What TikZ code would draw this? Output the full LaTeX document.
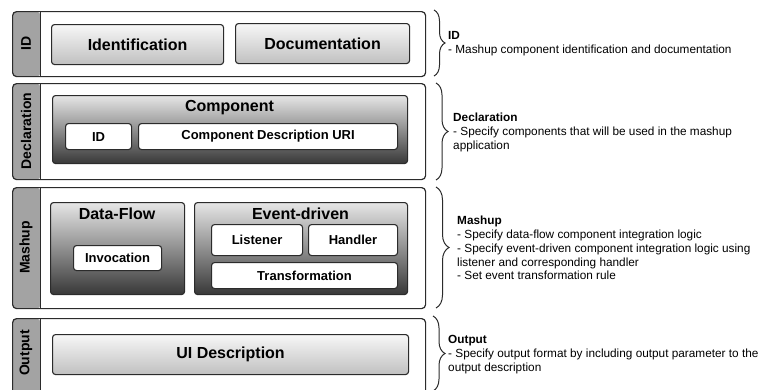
\documentclass[tikz,border=0pt]{standalone}
\usepackage{fontspec}
\setmainfont{Liberation Sans}
\usetikzlibrary{decorations.pathreplacing}

\definecolor{edge}{HTML}{2B2B2B}
\definecolor{stripgray}{HTML}{A3A3A3}
\definecolor{lighttop}{HTML}{F7F7F7}
\definecolor{lightbot}{HTML}{C0C0C0}
\definecolor{darktop}{HTML}{E6E6E6}
\definecolor{darkbot}{HTML}{383838}

\tikzset{
  % outer layer with a grey label strip on its left
  layer/.style={draw=edge, line width=1.2pt, rounded corners=4pt, fill=white,
    anchor=north west, inner sep=0pt,
    path picture={
      \fill[stripgray] (path picture bounding box.north west)
        rectangle ([xshift=28pt]path picture bounding box.south west);
      \draw[edge, line width=1pt] ([xshift=28pt]path picture bounding box.north west)
        -- ([xshift=28pt]path picture bounding box.south west);}},
  striplabel/.style={rotate=90, font=\fontsize{14}{16}\selectfont\bfseries, inner sep=0pt},
  lightbox/.style={draw=edge, line width=1.1pt, rounded corners=3pt, anchor=north west,
    top color=lighttop, bottom color=lightbot, inner sep=0pt,
    font=\fontsize{16}{18}\selectfont\bfseries},
  darkbox/.style={draw=edge, line width=1.1pt, rounded corners=3pt, anchor=north west,
    top color=darktop, bottom color=darkbot, inner sep=0pt},
  boxtitle/.style={font=\fontsize{16}{18}\selectfont\bfseries, inner sep=0pt},
  whitebox/.style={draw=edge, line width=1.1pt, rounded corners=3pt, anchor=north west,
    fill=white, inner sep=0pt, font=\fontsize{13}{15}\selectfont\bfseries},
  note/.style={anchor=north west, align=left, inner sep=0pt,
    font=\fontsize{11.8}{14}\selectfont},
  bracket/.style={draw=edge, line width=1pt,
    decorate, decoration={brace, amplitude=#1}},
}

\begin{document}
\begin{tikzpicture}[x=1pt, y=-1pt]
\useasboundingbox (0,0) rectangle (760,389);
\clip (0,0) rectangle (760,389);

% ---------- ID layer ----------
\node[layer, minimum width=413pt, minimum height=65pt] (idlayer) at (12,11) {};
\node[striplabel] (idlab) at (26,43.5) {ID};
\node[lightbox, minimum width=172pt, minimum height=40pt] (ident) at (51,24) {Identification};
\node[lightbox, minimum width=174pt, minimum height=40pt] (docu) at (235,23) {Documentation};

% ---------- Declaration layer ----------
\node[layer, minimum width=413pt, minimum height=96pt] (decllayer) at (12,83) {};
\node[striplabel] (decllab) at (26,131) {Declaration};
\node[darkbox, minimum width=355pt, minimum height=68pt] (comp) at (52,95) {};
\node[boxtitle] (comptitle) at (229.5,107.5) {Component};
\node[whitebox, minimum width=66pt, minimum height=26pt] (compid) at (65,123) {ID};
\node[whitebox, minimum width=259pt, minimum height=26pt] (compuri) at (138,123) {Component Description URI};

% ---------- Mashup layer ----------
\node[layer, minimum width=413pt, minimum height=121pt] (mashlayer) at (12,187) {};
\node[striplabel] (mashlab) at (26,247.5) {Mashup};
\node[darkbox, minimum width=134pt, minimum height=92pt] (dataflow) at (50,202) {};
\node[boxtitle] (dftitle) at (117,214) {Data-Flow};
\node[whitebox, minimum width=88pt, minimum height=25pt] (invoc) at (73,245) {Invocation};
\node[darkbox, minimum width=213pt, minimum height=92pt] (event) at (194,202) {};
\node[boxtitle] (evtitle) at (300.5,214) {Event-driven};
\node[whitebox, minimum width=91pt, minimum height=31pt] (listen) at (211,224) {Listener};
\node[whitebox, minimum width=89pt, minimum height=31pt] (handle) at (308,224) {Handler};
\node[whitebox, minimum width=186pt, minimum height=26pt] (transf) at (211,262) {Transformation};

% ---------- Output layer ----------
\node[layer, minimum width=413pt, minimum height=76pt] (outlayer) at (12,318) {};
\node[striplabel] (outlab) at (26,353) {Output};
\node[lightbox, minimum width=356pt, minimum height=40pt] (uidesc) at (52,334) {UI Description};

% ---------- braces ----------
\coordinate (b1a) at (434,10);  \coordinate (b1b) at (434,76);
\coordinate (b2a) at (436,83);  \coordinate (b2b) at (436,180);
\coordinate (b3a) at (436,187); \coordinate (b3b) at (436,308);
\coordinate (b4a) at (433,316); \coordinate (b4b) at (433,391);
\draw[bracket=11pt] (b1a) -- (b1b);
\draw[bracket=12pt] (b2a) -- (b2b);
\draw[bracket=13pt] (b3a) -- (b3b);
\draw[bracket=12pt] (b4a) -- (b4b);

% ---------- descriptions ----------
\node[note] (idnote) at (448,31) {\textbf{ID}\\- Mashup component identification and documentation};
\node[note] (declnote) at (453,113) {\textbf{Declaration}\\- Specify components that will be used in the mashup\\application};
\node[note, font=\fontsize{11.8}{13.8}\selectfont] (mashnote) at (457,216) {\textbf{Mashup}\\- Specify data-flow component integration logic\\- Specify event-driven component integration logic using\\listener and corresponding handler\\- Set event transformation rule};
\node[note] (outnote) at (448,335) {\textbf{Output}\\- Specify output format by including output parameter to the\\output description};
\end{tikzpicture}
\end{document}
